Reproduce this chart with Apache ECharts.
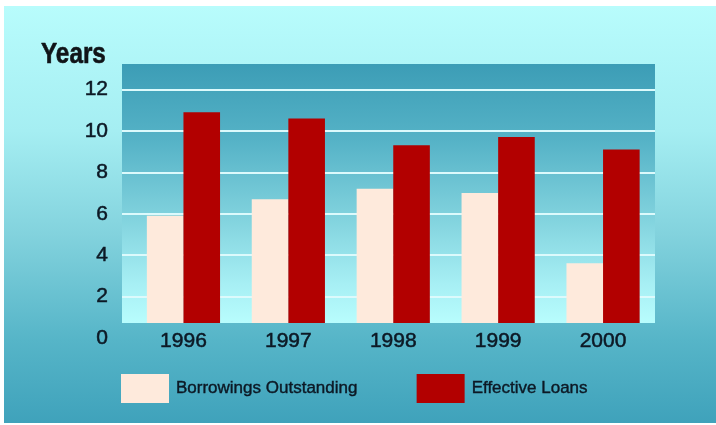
<!DOCTYPE html>
<html>
<head>
<meta charset="utf-8">
<title>Years</title>
<script src="https://cdn.jsdelivr.net/npm/echarts@6/dist/echarts.min.js"></script>
<style>
  html, body { margin: 0; padding: 0; background: #ffffff; }
  #chart { width: 716px; height: 425px; }
</style>
</head>
<body>
<div id="chart"></div>
<script>
// Average maturity, in years
const categories = ['1996', '1997', '1998', '1999', '2000'];
const borrowingsOutstanding = [5.9, 6.7, 7.2, 7.0, 3.6];
const effectiveLoans = [10.9, 10.6, 9.3, 9.7, 9.1];
const gridValues = [2, 4, 6, 8, 10, 12];

// Value range of the plot panel (its floor sits a little above zero)
const panelFloor = 0.72;
const panelTop = 13.23;

const inkColor = '#0c1824';
const fontFamily = '"Liberation Sans", Arial, sans-serif';
const labelInk = { color: inkColor, fontFamily: fontFamily, textBorderColor: inkColor, textBorderWidth: 0.5 };

const chart = echarts.init(document.getElementById('chart'), null, { renderer: 'canvas' });

const outerFill = new echarts.graphic.LinearGradient(0, 0, 0, 1, [
  { offset: 0, color: '#b8fcfc' },
  { offset: 0.3, color: '#a5eef2' },
  { offset: 0.55, color: '#82d2dd' },
  { offset: 0.8, color: '#56b5c8' },
  { offset: 1, color: '#3fa2bb' }
]);

const panelFill = new echarts.graphic.LinearGradient(0, 0, 0, 1, [
  { offset: 0, color: '#3c9db6' },
  { offset: 0.3, color: '#56b3c7' },
  { offset: 0.6, color: '#82d3de' },
  { offset: 0.85, color: '#a7eff4' },
  { offset: 1, color: '#b8fdfd' }
]);

const option = {
  backgroundColor: '#ffffff',
  animation: false,
  graphic: [
    { type: 'rect', z: -10, silent: true,
      shape: { x: 4, y: 6, width: 712, height: 417 },
      style: { fill: outerFill } },
    { type: 'rect', z: -9, silent: true,
      shape: { x: 122, y: 64, width: 533, height: 259 },
      style: { fill: panelFill } },
    { type: 'text', z: 5, x: 41, y: 55, scaleX: 0.81,
      style: { text: 'Years', fill: '#101418', font: 'bold 30px ' + fontFamily,
               textVerticalAlign: 'middle', stroke: '#101418', lineWidth: 0.6 } }
  ],
  legend: {
    left: 121,
    top: 374,
    padding: 0,
    itemWidth: 48,
    itemHeight: 29,
    itemGap: 59,
    icon: 'rect',
    data: ['Borrowings Outstanding', 'Effective Loans'],
    textStyle: Object.assign({ fontSize: 17, padding: [0, 0, 0, 2] }, labelInk, { textBorderWidth: 0.4 })
  },
  grid: [
    { left: 131, top: 64, width: 524.5, height: 259 },
    { left: 122, top: 64, width: 533, height: 274 }
  ],
  xAxis: [
    {
      gridIndex: 0,
      type: 'category',
      data: categories,
      axisLine: { show: false },
      axisTick: { show: false },
      axisLabel: Object.assign({ fontSize: 21, margin: 8 }, labelInk)
    },
    { gridIndex: 1, type: 'category', data: categories, show: false }
  ],
  yAxis: [
    { gridIndex: 0, type: 'value', min: panelFloor, max: panelTop, show: false },
    {
      gridIndex: 1,
      type: 'value',
      min: 0,
      max: panelTop,
      interval: 2,
      axisLine: { show: false },
      axisTick: { show: false },
      splitLine: { show: false },
      axisLabel: Object.assign({ fontSize: 21, margin: 14, showMaxLabel: false }, labelInk)
    }
  ],
  series: [
    {
      // carries the horizontal guide lines across the full panel width
      name: 'guides',
      type: 'line',
      xAxisIndex: 1,
      yAxisIndex: 1,
      data: [],
      silent: true,
      markLine: {
        silent: true,
        z: 1,
        symbol: 'none',
        label: { show: false },
        lineStyle: { color: '#dcfafc', width: 2, type: 'solid' },
        data: gridValues.map(v => ({ yAxis: v }))
      }
    },
    {
      name: 'Borrowings Outstanding',
      type: 'bar',
      xAxisIndex: 0,
      yAxisIndex: 0,
      data: borrowingsOutstanding,
      barWidth: 36.6,
      barGap: '0%',
      itemStyle: { color: '#feeadc' }
    },
    {
      name: 'Effective Loans',
      type: 'bar',
      xAxisIndex: 0,
      yAxisIndex: 0,
      data: effectiveLoans,
      barWidth: 36.6,
      barGap: '0%',
      itemStyle: { color: '#b20000' }
    }
  ]
};

chart.setOption(option);
</script>
</body>
</html>
